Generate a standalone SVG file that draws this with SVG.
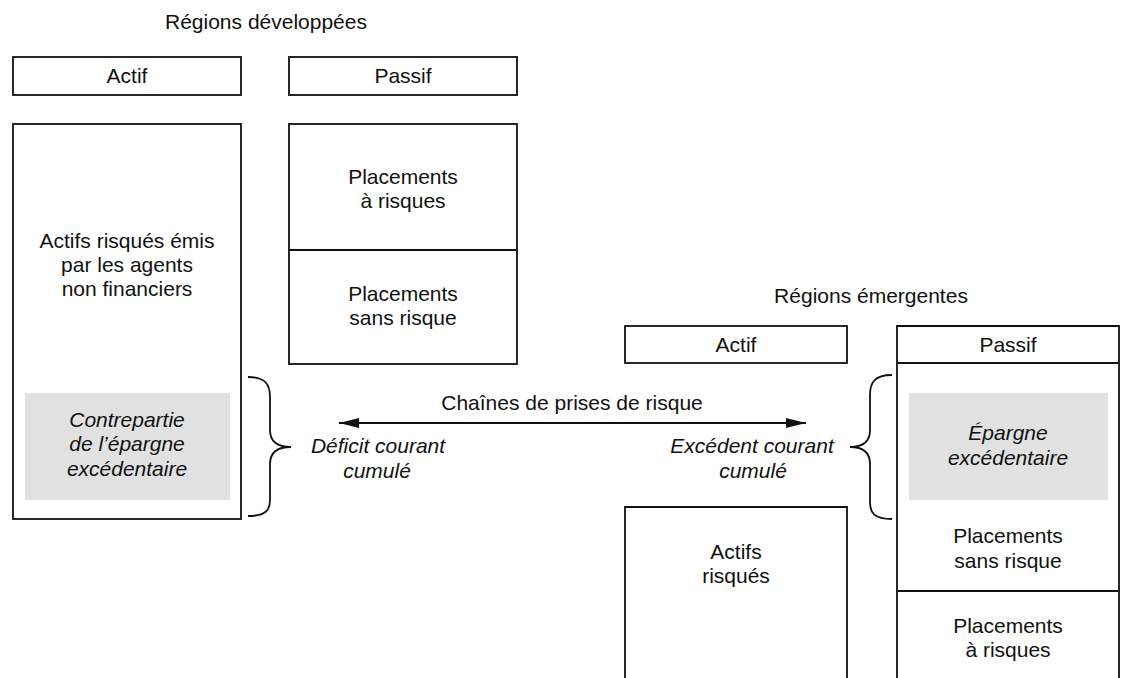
<svg xmlns="http://www.w3.org/2000/svg" width="1136" height="678" viewBox="0 0 1136 678">
<defs>
<style>
.box{fill:#fff;stroke:#111;stroke-width:1.8}
.ln{fill:none;stroke:#111;stroke-width:1.8}
.grey{fill:#e1e1e1;stroke:none}
text{font-family:"Liberation Sans",Arial,Helvetica,sans-serif;font-size:21px;fill:#111;text-anchor:middle}
.it{font-style:italic}
</style>
<marker id="ah" viewBox="0 0 20 10" refX="20" refY="5" markerWidth="20" markerHeight="10" markerUnits="userSpaceOnUse" orient="auto-start-reverse">
<path d="M0,0 L20,5 L0,10 z" fill="#111"/>
</marker>
</defs>
<rect width="1136" height="678" fill="#fff"/>

<text x="266" y="29">Régions développées</text>
<text x="871" y="303">Régions émergentes</text>

<g id="dev-actif-header">
<rect class="box" x="13" y="57" width="228" height="38"/>
<text x="127" y="83">Actif</text>
</g>
<g id="dev-passif-header">
<rect class="box" x="289" y="57" width="228" height="38"/>
<text x="403" y="83">Passif</text>
</g>
<g id="dev-actif">
<rect class="box" x="13" y="124" width="228" height="395"/>
<text x="127" y="248">Actifs risqués émis</text>
<text x="127" y="272">par les agents</text>
<text x="127" y="296">non financiers</text>
</g>
<g id="dev-contrepartie">
<rect class="grey" x="25" y="393" width="205" height="107"/>
<text class="it" x="127" y="427">Contrepartie</text>
<text class="it" x="127" y="451">de l’épargne</text>
<text class="it" x="127" y="476">excédentaire</text>
</g>
<g id="dev-passif">
<rect class="box" x="289" y="124" width="228" height="240"/>
<line class="ln" x1="289" y1="250" x2="517" y2="250"/>
<text x="403" y="184">Placements</text>
<text x="403" y="208">à risques</text>
<text x="403" y="301">Placements</text>
<text x="403" y="325">sans risque</text>
</g>

<g id="em-actif-header">
<rect class="box" x="625" y="326" width="222" height="37"/>
<text x="736" y="352">Actif</text>
</g>
<g id="em-actif">
<path class="ln" d="M625,690 V507 H847 V690" fill="#fff"/>
<text x="736" y="559">Actifs</text>
<text x="736" y="583">risqués</text>
</g>
<g id="em-passif">
<path class="ln" d="M897,690 V326 H1119 V690"/>
<line class="ln" x1="897" y1="363" x2="1119" y2="363"/>
<line class="ln" x1="897" y1="591" x2="1119" y2="591"/>
<text x="1008" y="352">Passif</text>
<text x="1008" y="543">Placements</text>
<text x="1008" y="568">sans risque</text>
<text x="1008" y="633">Placements</text>
<text x="1008" y="657">à risques</text>
</g>
<g id="em-epargne">
<rect class="grey" x="909" y="393" width="199" height="107"/>
<text class="it" x="1008" y="440">Épargne</text>
<text class="it" x="1008" y="465">excédentaire</text>
</g>

<g id="deficit">
<text class="it" x="378" y="453">Déficit courant</text>
<text class="it" x="377" y="478">cumulé</text>
</g>
<g id="excedent">
<text class="it" x="752" y="453">Excédent courant</text>
<text class="it" x="753" y="478">cumulé</text>
</g>

<g id="connectors">
<path class="ln" d="M248,377 C266,377 270,385 270,397 V430 C270,442 278,447 291,447 C278,447 270,452 270,464 V500 C270,510 266,516 248,516"/>
<path class="ln" d="M892,375 C874,375 870,383 870,395 V430 C870,442 862,447 850,447 C862,447 870,452 870,464 V502 C870,513 874,519 892,519"/>
<line class="ln" x1="339" y1="423" x2="806" y2="423" marker-start="url(#ah)" marker-end="url(#ah)"/>
<text x="572" y="410">Chaînes de prises de risque</text>
</g>
</svg>
